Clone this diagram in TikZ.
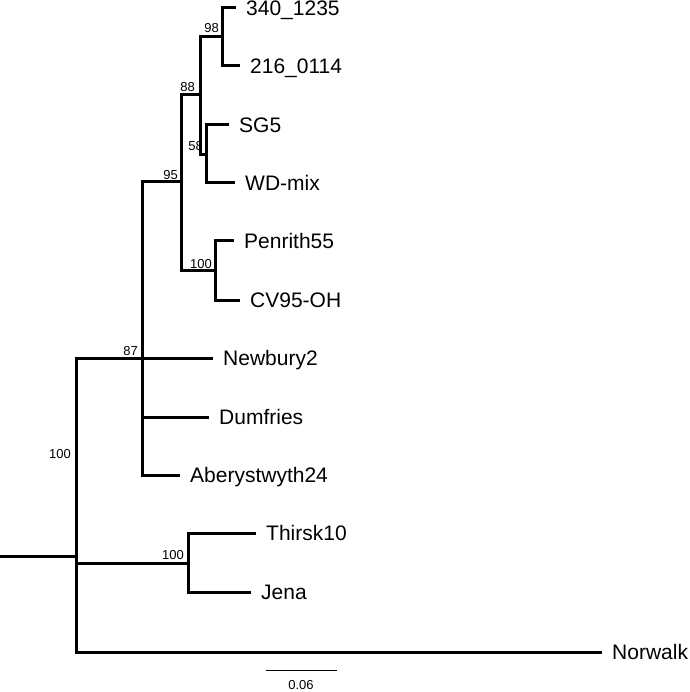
\documentclass[tikz,border=0pt]{standalone}
\usepackage{fontspec}
\setmainfont{Liberation Sans}

\tikzset{
  branch/.style={line width=3pt, line join=miter},
  taxon/.style={anchor=west, inner xsep=10pt, inner ysep=0pt, text height=15pt, text depth=0pt, font=\fontsize{21}{21}\selectfont},
  support/.style={anchor=base east, inner sep=0pt, font=\fontsize{13}{13}\selectfont}
}

\begin{document}
\begin{tikzpicture}[x=1pt, y=-1pt]
	\useasboundingbox (0,0) rectangle (689,692);
	% internal nodes
	\coordinate (base)  at (0,556);
	\coordinate (root)  at (76,556);
	\coordinate (n87)   at (142,358);
	\coordinate (n95)   at (181,182);
	\coordinate (n88)   at (200,95);
	\coordinate (n98)   at (222,37);
	\coordinate (n58)   at (206,155);
	\coordinate (npen)  at (215,270);
	\coordinate (nthi)  at (188,563);
	% taxa
	\node[taxon] (t340)  at (236,8)   {340\_1235};
	\node[taxon] (t216)  at (240,66)  {216\_0114};
	\node[taxon] (tsg)   at (229,125) {SG5};
	\node[taxon] (twd)   at (235,183) {WD-mix};
	\node[taxon] (tpen)  at (234,241) {Penrith55};
	\node[taxon] (tcv)   at (240,300) {CV95-OH};
	\node[taxon] (tnew)  at (213,358) {Newbury2};
	\node[taxon] (tdum)  at (209,417) {Dumfries};
	\node[taxon] (tabe)  at (180,475) {Aberystwyth24};
	\node[taxon] (tthi)  at (256,533) {Thirsk10};
	\node[taxon] (tjen)  at (251,592) {Jena};
	\node[taxon] (tnor)  at (602,652) {Norwalk};
	% branches
	\draw[branch] (base) -- (root);
	\draw[branch] (root) |- (n87);
	\draw[branch] (root) |- (nthi);
	\draw[branch] (root) |- (tnor.west);
	\draw[branch] (n87) |- (n95);
	\draw[branch] (n87) -- (tnew.west);
	\draw[branch] (n87) |- (tdum.west);
	\draw[branch] (n87) |- (tabe.west);
	\draw[branch] (n95) |- (n88);
	\draw[branch] (n95) |- (npen);
	\draw[branch] (n88) |- (n98);
	\draw[branch] (n88) |- (n58);
	\draw[branch] (n98) |- (t340.west);
	\draw[branch] (n98) |- (t216.west);
	\draw[branch] (n58) |- (tsg.west);
	\draw[branch] (n58) |- (twd.west);
	\draw[branch] (npen) |- (tpen.west);
	\draw[branch] (npen) |- (tcv.west);
	\draw[branch] (nthi) |- (tthi.west);
	\draw[branch] (nthi) |- (tjen.west);
	% bootstrap values
	\node[support] (s98)  at (219,33)  {98};
	\node[support] (s88)  at (195,92)  {88};
	\node[support] (s58)  at (203,151) {58};
	\node[support] (s95)  at (178,180) {95};
	\node[support] (spen) at (212,268) {100};
	\node[support] (s87)  at (138,355) {87};
	\node[support] (sroot) at (71,458) {100};
	\node[support] (sthi) at (184,559) {100};
	% scale bar
	\coordinate (sb1) at (266,670);
	\coordinate (sb2) at (337,670);
	\draw[line width=1pt] (sb1) -- (sb2);
	\node[font=\fontsize{13}{13}\selectfont, inner sep=0pt, anchor=base] (sblab) at (301,689) {0.06};
\end{tikzpicture}
\end{document}
